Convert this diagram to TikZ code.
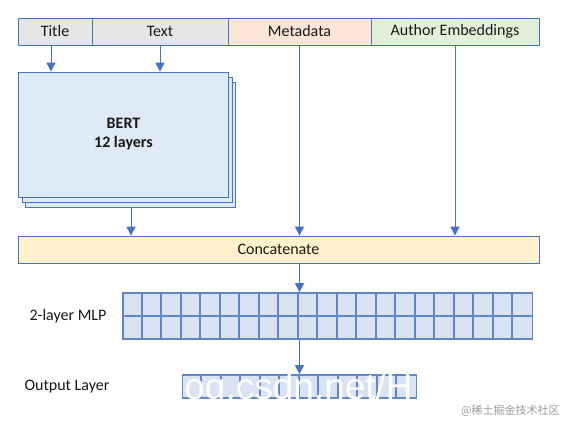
\documentclass[tikz,border=0pt]{standalone}
\usepackage{fontspec}
\setmainfont{Carlito}
\newfontfamily\cjk{Noto Sans CJK SC}
\newfontfamily\wmfont{Liberation Sans}
\usetikzlibrary{arrows.meta,shadows}
\definecolor{boxblue}{HTML}{4472C4}
\definecolor{greyfill}{HTML}{E7E6E6}
\definecolor{metafill}{HTML}{FBE5D6}
\definecolor{authfill}{HTML}{E2F0D9}
\definecolor{bertfill}{HTML}{DEEBF7}
\definecolor{catfill}{HTML}{FFF2CC}
\definecolor{mlpfill}{HTML}{DAE3F3}

\begin{document}
\begin{tikzpicture}[
     x = 1pt, y = -1pt,
     every node/.style = {
     	rectangle, draw = boxblue, line width = .8pt, inner sep = 0pt,
     	text = black!90, font = \fontsize{16}{19}\selectfont},
     lbl/.style = {draw = none},
     arr/.style = {boxblue, line width = 1pt, -{Triangle[width=9pt,length=9pt]}},
     mlpline/.style = {draw = boxblue!85, line width = 1.6pt},
     mlpbox/.style = {fill = mlpfill, draw = boxblue!85, line width = 1.6pt}
     ]
     \useasboundingbox (0,0) rectangle (564,422);

       \node[fill = greyfill, minimum width = 74pt, minimum height = 27pt] (title) at (55,31.5) {Title}; % 0
       \node[fill = greyfill, minimum width = 136pt, minimum height = 27pt] (text) at (160,31.5) {Text}; % 1
       \node[fill = metafill, minimum width = 143pt, minimum height = 27pt] (meta) at (299.5,31.5) {Metadata}; % 2
       \node[fill = authfill, minimum width = 168pt, minimum height = 27pt] (auth) at (455,31.5) {Author Embeddings}; % 3
       \node[fill = bertfill, minimum width = 210pt, minimum height = 125pt, align = center,
             font = \fontsize{16}{19}\selectfont\bfseries,
             double copy shadow = {shadow xshift = 3.5pt, shadow yshift = -5pt,
                                   fill = bertfill, draw = boxblue}]
             (bert) at (123.5,134.5) {BERT\\12 layers}; % 4
       \node[fill = catfill, minimum width = 521pt, minimum height = 27pt] (concat) at (278.5,249.5) {Concatenate}; % 5
       \node[mlpbox, minimum width = 409.5pt, minimum height = 46pt] (mlp) at (327.75,316) {}; % 6
       \node[mlpbox, minimum width = 234pt, minimum height = 23pt] (outl) at (299.5,386.5) {}; % 7
       \node[lbl] (mlplbl) at (68,316) {2-layer MLP}; % 8
       \node[lbl] (outlbl) at (67,387) {Output Layer}; % 9

       % cell lines
       \foreach \i in {1,...,20}
         \draw[mlpline] ([xshift = \i*19.5pt]mlp.north west) -- ([xshift = \i*19.5pt]mlp.south west);
       \draw[mlpline] (mlp.west) -- (mlp.east);
       \foreach \i in {1,...,11}
         \draw[mlpline] ([xshift = \i*19.5pt]outl.north west) -- ([xshift = \i*19.5pt]outl.south west);

       \coordinate (bertout) at ([shift = {(7.5,10)}]bert.south);
       \draw[arr] ([xshift = -4pt]title.south) -- ([xshift = -4pt]title.south |- bert.north);
       \draw[arr] (text.south) -- (text.south |- bert.north);
       \draw[arr] (meta.south) -- (meta.south |- concat.north);
       \draw[arr] (auth.south) -- (auth.south |- concat.north);
       \draw[arr] (bertout) -- (bertout |- concat.north);
       \draw[arr] (concat.south -| meta.south) -- (mlp.north -| meta.south);
       \draw[arr] (mlp.south -| meta.south) -- (outl.north);

       % marks
       \node[lbl, anchor = base west, text = white, font = \wmfont\fontsize{37}{40}\selectfont]
             (wmark) at (184,399) {og.csdn.net/H};
       \node[lbl, anchor = east, text = black!40, font = \cjk\fontsize{11}{13}\selectfont]
             (jj) at (560,411) {@稀土掘金技术社区};
      \end{tikzpicture}
\end{document}
